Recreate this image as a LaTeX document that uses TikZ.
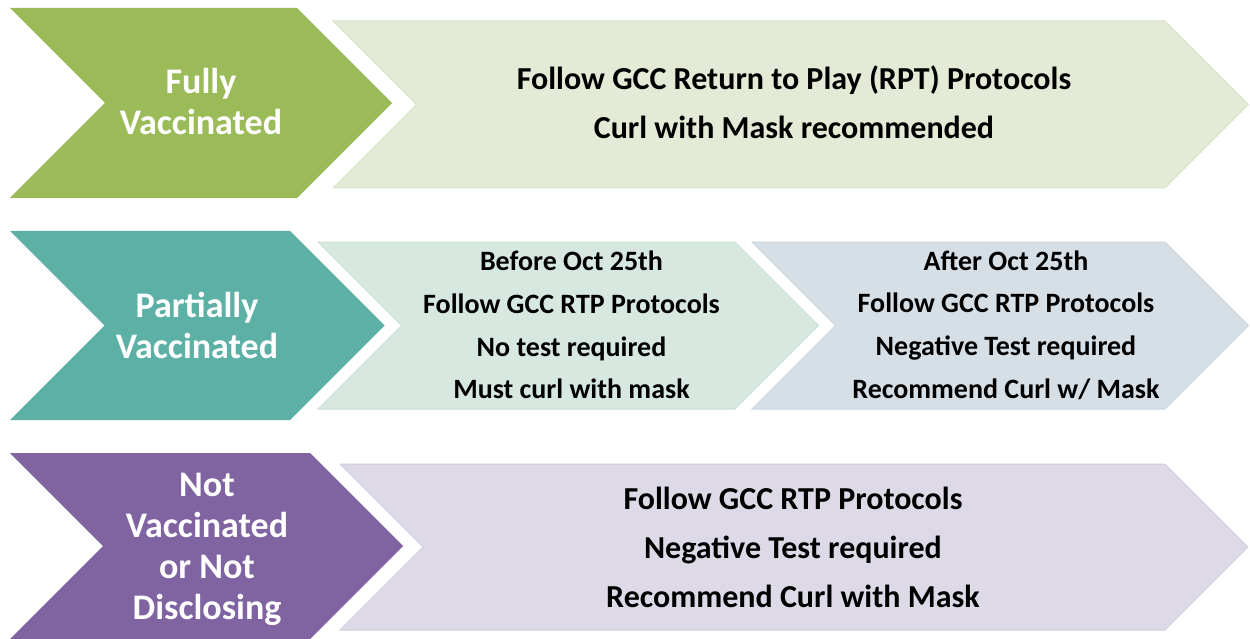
\documentclass[tikz,border=0pt]{standalone}
\usepackage{fontspec}
\setmainfont{Carlito}
\definecolor{cgreen}{HTML}{9BBB59}
\definecolor{cteal}{HTML}{5CB0A6}
\definecolor{cpurple}{HTML}{8064A2}
\definecolor{lgreen}{HTML}{E3EAD6}
\definecolor{lgreenb}{HTML}{D8E3C6}
\definecolor{lmint}{HTML}{D6E8DF}
\definecolor{lmintb}{HTML}{CBE1D5}
\definecolor{lblue}{HTML}{D6DFE6}
\definecolor{lblueb}{HTML}{CAD5DE}
\definecolor{lpurple}{HTML}{DDD9E6}
\definecolor{lpurpleb}{HTML}{D2CDDF}
\newcommand\chevshape[5]{%
  \path[#5] (#1,#2) -- (#4,#2) -- ({#4+(#3-#2)/2},{(#2+#3)/2}) -- (#4,#3) -- (#1,#3) -- ({#1+(#3-#2)/2},{(#2+#3)/2}) -- cycle;}
\tikzset{
  whitetxt/.style={text=white, align=center, inner sep=0pt, font=\fontsize{36}{41}\selectfont\bfseries},
  bigtxt/.style={text=black, align=center, inner sep=0pt, font=\fontsize{32}{49}\selectfont\bfseries},
  midtxt/.style={text=black, align=center, inner sep=0pt, font=\fontsize{28}{42.7}\selectfont\bfseries},
}
\begin{document}
\begin{tikzpicture}[x=1pt,y=-1pt]
\useasboundingbox[fill=white] (0,0) rectangle (1250,639);
% row 1
\chevshape{333}{21}{188}{1165}{fill=lgreen, draw=lgreenb, line width=1pt}
\chevshape{10}{8}{198}{297}{fill=cgreen}
% row 2
\chevshape{752}{242}{409}{1165}{fill=lblue, draw=lblueb, line width=1pt}
\chevshape{318}{242}{409}{735}{fill=lmint, draw=lmintb, line width=1pt}
\chevshape{10}{231}{420}{290}{fill=cteal}
% row 3
\chevshape{340}{464}{630}{1165}{fill=lpurple, draw=lpurpleb, line width=1pt}
\chevshape{10}{453}{639}{310}{fill=cpurple}
% texts
\node[whitetxt] (fv) at (201,102) {Fully\\Vaccinated};
\node[bigtxt] (fvt) at (794,102) {Follow GCC Return to Play (RPT) Protocols\\Curl with Mask recommended};
\node[whitetxt] (pv) at (197,325) {Partially\\Vaccinated};
\node[midtxt] (before) at (571.5,325) {Before Oct 25th\\Follow GCC RTP Protocols\\No test required\\Must curl with mask};
\node[midtxt] (after) at (1006,325) {After Oct 25th\\Follow GCC RTP Protocols\\Negative Test required\\Recommend Curl w/ Mask};
\node[whitetxt] (nv) at (207,549) {Not\\Vaccinated\\or Not\\Disclosing};
\node[bigtxt] (nvt) at (793,547) {Follow GCC RTP Protocols\\Negative Test required\\Recommend Curl with Mask};
\end{tikzpicture}
\end{document}
